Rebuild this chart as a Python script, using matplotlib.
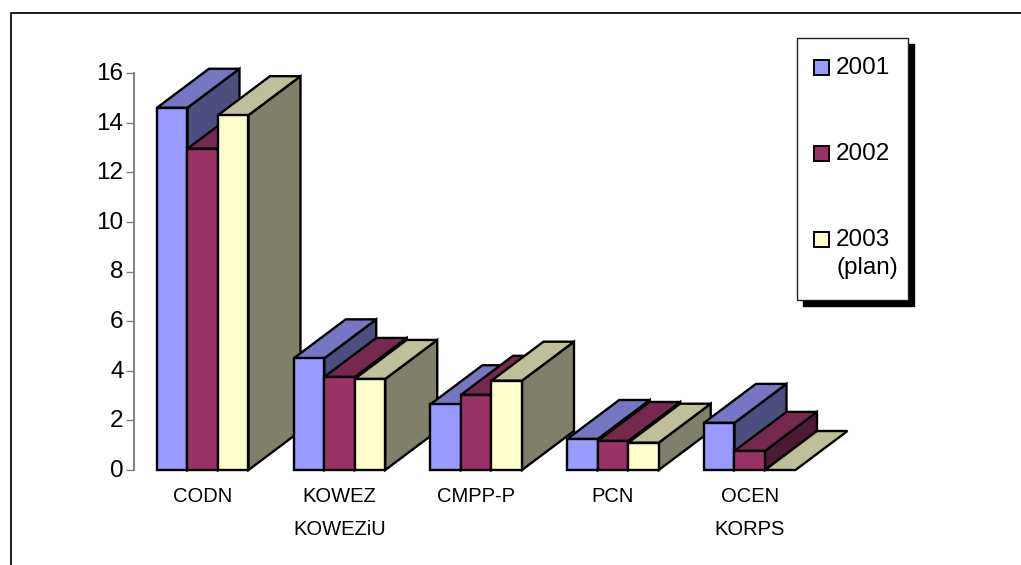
import numpy as np
import matplotlib
matplotlib.use("Agg")
import matplotlib.pyplot as plt
from matplotlib.patches import Polygon, Rectangle
from matplotlib.transforms import ScaledTranslation

# datos
categorias = ["CODN", "KOWEZ\nKOWEZiU", "CMPP-P", "PCN", "OCEN\nKORPS"]
series = ["2001", "2002", "2003\n(plan)"]
v2001 = [14.6, 4.5, 2.65, 1.25, 1.9]
v2002 = [12.95, 3.75, 3.03, 1.17, 0.77]
v2003 = [14.3, 3.67, 3.6, 1.1, 0.0]
y_ticks = [0, 2, 4, 6, 8, 10, 12, 14, 16]

# colores: frente, techo, lado
frente = ["#9999FF", "#993366", "#FFFFCC"]
techo = ["#7676C2", "#74294D", "#BFBF99"]
lado = ["#4D4D80", "#4D1A33", "#80806A"]

W, H = 1021, 565
plt.rcParams["font.family"] = ["Liberation Sans", "DejaVu Sans"]

fig = plt.figure(figsize=(W / 100, H / 100), dpi=100)


def px(x, y):
    # pixeles de la imagen a fraccion de figura
    return x / W, 1 - y / H


# marco exterior (solo izquierda y arriba llegan a verse)
fig.add_artist(plt.Line2D([px(10.5, 0)[0], px(10.5, 0)[0], 1],
                          [0, px(0, 12.5)[1], px(0, 12.5)[1]], color="#1a1a1a", lw=1.4))

# ejes: valor 0 en y=470 px, valor 16 en y=73 px, una categoria = 136.75 px
paso = 136.75
x0, y0, y16 = 134, 470, 73
ancho_cat = 5
ax = fig.add_axes([x0 / W, 1 - y0 / H, paso * ancho_cat / W, (y0 - y16) / H])
ax.set_xlim(-0.5026, ancho_cat - 0.5026)
ax.set_ylim(0, 16)
ax.patch.set_alpha(0)

for s in ["top", "right", "bottom"]:
    ax.spines[s].set_visible(False)
ax.spines["left"].set_color("#808080")
ax.spines["left"].set_linewidth(1.4)

ax.set_yticks(y_ticks)
ax.tick_params(axis="y", length=6, width=1, color="#808080", labelsize=17.5, pad=1.5)
for lab in ax.get_yticklabels():
    lab.set_transform(lab.get_transform() + ScaledTranslation(0, 1.5 / 100, fig.dpi_scale_trans))
ax.set_xticks(range(len(categorias)))
ax.set_xticklabels(categorias, fontsize=14.5, linespacing=1.98)
ax.tick_params(axis="x", length=0, pad=12)

ancho = 30.5 / paso
dx = 52 / paso
dy = 39 / ((y0 - y16) / 16)


def barra(x, v, k):
    # cara lateral, techo y frente de la barra 3D
    borde = dict(edgecolor="black", linewidth=1.7, joinstyle="miter", clip_on=False)
    if v > 0:
        ax.add_patch(Polygon([(x + ancho, 0), (x + ancho + dx, dy), (x + ancho + dx, v + dy), (x + ancho, v)],
                             facecolor=lado[k], **borde))
    ax.add_patch(Polygon([(x, v), (x + dx, v + dy), (x + ancho + dx, v + dy), (x + ancho, v)],
                         facecolor=techo[k], **borde))
    if v > 0:
        ax.add_patch(Polygon([(x, 0), (x, v), (x + ancho, v), (x + ancho, 0)],
                             facecolor=frente[k], **borde))


valores = [v2001, v2002, v2003]
for i in range(len(categorias)):
    for k in range(3):
        barra(i - 1.5 * ancho + k * ancho, valores[k][i], k)

# leyenda manual con sombra
lx0, ly0 = px(797, 300)
lx1, ly1 = px(908, 38)
sx, sy = 6 / W, 6 / H
fig.add_artist(Rectangle((lx0 + sx, ly0 - sy), lx1 - lx0, ly1 - ly0, facecolor="black", edgecolor="black",
                         transform=fig.transFigure))
fig.add_artist(Rectangle((lx0, ly0), lx1 - lx0, ly1 - ly0, facecolor="white", edgecolor="#222222", lw=1,
                         transform=fig.transFigure))
for k, nombre in enumerate(series):
    top = [60, 146, 232][k]
    a, b = px(814, top + 15)
    fig.add_artist(Rectangle((a, b), 15 / W, 15 / H, facecolor=frente[k], edgecolor="black", lw=1.4,
                             transform=fig.transFigure))
    tx, ty = px(836, top - 3.5)
    fig.text(tx, ty, nombre, fontsize=17.5, va="top", ha="left", linespacing=1.4)

fig.savefig("out.png", dpi=100)
